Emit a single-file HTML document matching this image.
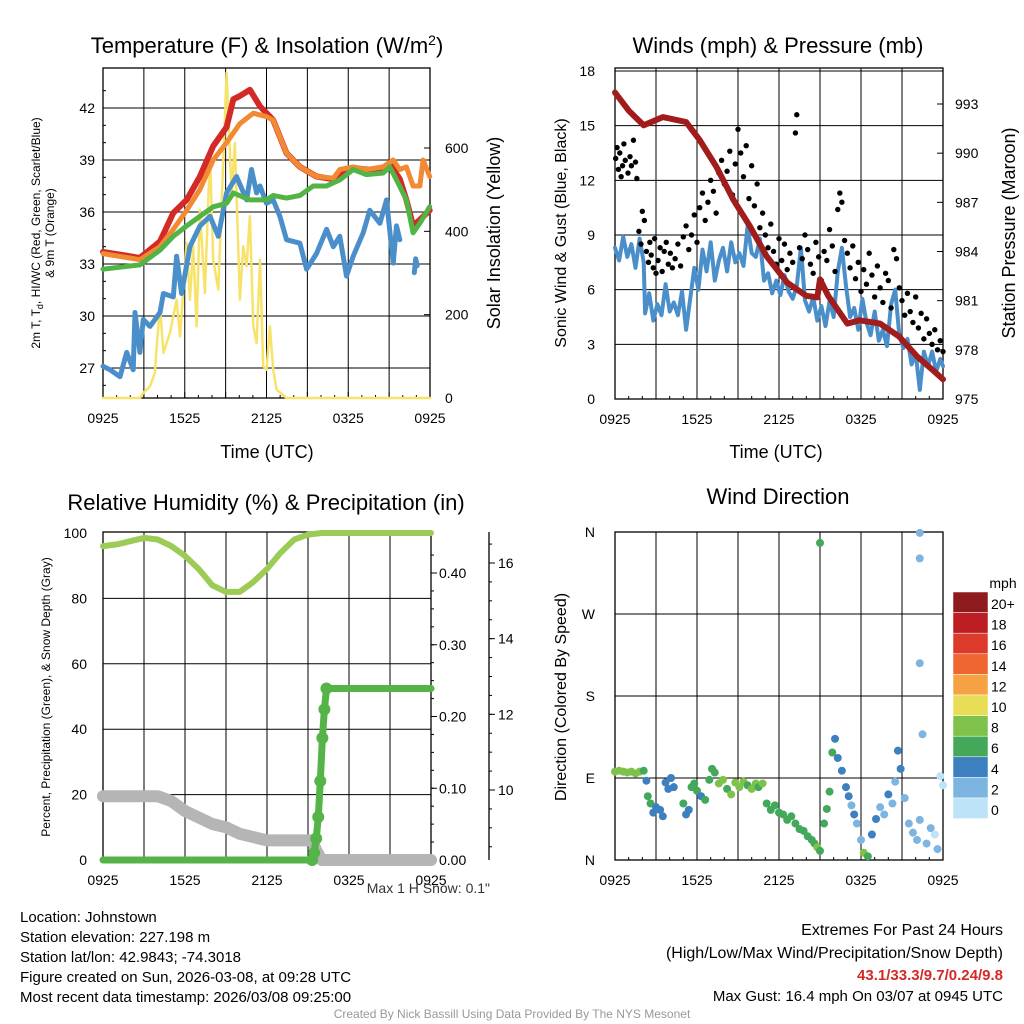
<!DOCTYPE html>
<html><head><meta charset="utf-8">
<style>
body{margin:0;background:#fff;}
svg{display:block;font-family:"Liberation Sans",sans-serif;}
</style></head>
<body>
<svg id="c" width="1024" height="1024" viewBox="0 0 1024 1024"></svg>
<script>
// ---- Panel 1 data (hours since 0925 UTC) ----
const redHours = [0,2.71,4.18,5.16,6.14,7.11,8.09,9.07,9.56,10.05,10.78,11.52,12.49,13.47,14.45,15.67,16.9,17.38,18.36,19.34,20.56,21.05,21.78,22.27,22.76,23.25,23.98];
const tempRed = [33.7,33.35,34.3,35.95,36.7,38.05,39.8,40.9,42.5,42.7,43.05,42.1,41.3,39.4,38.6,38.05,37.9,38.25,38.55,38.45,38.45,38.8,37.9,36.7,35.2,35.55,36.1];
const orangeHours = [0,2.71,4.18,5.16,6.14,7.11,8.09,9.07,10.05,11.03,12.0,12.49,13.47,14.45,15.67,16.9,17.38,18.36,19.34,20.56,21.3,21.78,22.27,22.76,23.25,23.49,23.98];
const tempOrange = [33.6,33.25,34,35,36.1,37.3,39,40,41.1,41.7,41.5,41.3,39.4,38.6,38.05,37.95,38.45,38.6,38.45,38.6,39,38.45,38.6,37.5,37.5,39,38.05];
const greenHours = [0,2.71,4.18,5.16,6.14,7.11,8.09,9.07,9.56,10.78,12.0,12.49,13.47,14.45,15.43,16.41,17.38,18.36,19.34,20.56,21.05,21.54,22.27,22.76,23.25,23.98];
const tempGreen = [32.7,32.95,33.8,34.6,35.2,35.75,36.3,36.5,37.1,36.7,36.7,36.95,36.8,36.95,37.5,37.5,37.85,38.45,38.15,38.25,38.6,37.85,36.7,34.8,35.35,36.3];
const dewHours = [0,0.51,1.25,1.74,2.22,2.35,2.71,2.96,3.45,4.18,4.43,5.16,5.40,5.77,6.38,7.11,7.85,8.46,9.07,9.8,10.54,10.9,11.27,11.52,12.0,12.49,12.98,13.47,14.45,14.94,15.67,16.41,16.9,17.38,17.87,18.36,19.1,19.58,20.32,20.81,21.3,21.54,21.78];
const dewBlue = [27.1,26.9,26.5,27.9,26.9,30.2,27.9,29.8,29.4,30.2,31.3,31.1,33.45,31.3,34,35.2,35.75,34.6,37.1,38.05,36.7,38.45,37.1,37.5,36.5,36.7,35.75,34.4,34.2,32.7,33.6,35,34,34.6,32.3,33.45,34.8,36.1,35.35,36.7,33.05,35.2,34.4];
const dewEndHours = [22.85,22.95,23.05];
const dewEndVals = [32.5,33.3,32.9];
const solarHours = [0,2.71,2.96,3.45,3.81,3.94,4.18,4.43,4.67,4.91,5.40,5.65,6.14,6.38,6.62,6.87,7.11,7.48,7.85,8.09,8.46,8.83,9.07,9.44,9.68,10.05,10.29,10.54,10.78,11.03,11.27,11.52,11.76,12.0,12.25,12.49,12.74,13.47,24];
const solarVals = [0,0,12,28,60,124,220,108,132,156,236,148,372,236,364,172,452,252,588,332,260,572,780,492,612,236,364,316,436,172,132,332,76,68,172,68,20,0,0];
const tempTicks = [27,30,33,36,39,42];
const solarTicks = [0,200,400,600];
const timeLabels = ["0925","1525","2125","0325","0925"];
// ---- Panel 2 data ----
const windHours = [0,0.3,0.6,0.9,1.2,1.5,1.8,2.1,2.2,2.5,2.8,3.1,3.4,3.7,4.0,4.3,4.6,4.9,5.2,5.5,5.8,6.1,6.4,6.7,7.0,7.3,7.6,7.9,8.2,8.5,8.8,9.1,9.4,9.7,10.0,10.3,10.6,10.9,11.2,11.5,11.8,12.1,12.4,12.7,13.0,13.3,13.6,13.9,14.2,14.5,14.8,15.1,15.4,15.7,16.0,16.3,16.6,16.9,17.2,17.5,17.8,18.1,18.4,18.7,19.0,19.3,19.6,19.9,20.2,20.5,20.8,21.1,21.4,21.7,22.0,22.3,22.6,22.9,23.2,23.5,23.8,24];
const windSpeed = [8.3,7.6,8.9,7.8,8.5,7.2,8.8,7.5,4.7,5.8,4.3,5.2,4.6,6.3,4.8,5.3,4.6,5.9,3.8,5.5,7.2,6.0,8.2,7.0,8.6,6.5,7.6,8.3,7.0,8.6,7.5,8.0,7.3,9.5,8.0,7.8,8.8,6.5,6.9,5.8,6.5,5.7,6.8,5.9,5.5,6.2,8.3,5.4,4.8,5.6,4.3,5.1,4.0,5.4,4.5,7.0,8.3,6.2,4.5,5.0,3.8,5.5,4.2,3.5,4.8,3.2,3.8,2.9,5.2,6.0,3.5,2.8,3.3,1.9,2.5,0.5,2.6,1.8,2.6,1.5,2.2,1.8];
const gustHours = [0.05,0.15,0.25,0.35,0.45,0.55,0.65,0.75,0.85,0.95,1.1,1.2,1.35,1.5,1.6,1.75,1.9,2.0,2.15,2.3,2.45,2.55,2.65,2.8,2.9,3.0,3.15,3.3,3.45,3.6,3.75,3.9,4.05,4.2,4.4,4.6,4.8,5.0,5.2,5.4,5.6,5.8,6.0,6.2,6.4,6.6,6.8,7.0,7.2,7.4,7.6,7.8,8.0,8.2,8.4,8.6,8.8,9.0,9.2,9.4,9.6,9.8,10.0,10.2,10.4,10.6,10.8,11.0,11.2,11.4,11.6,11.8,12.0,12.2,12.4,12.6,12.8,13.0,13.2,13.3,13.5,13.7,13.9,14.1,14.3,14.5,14.7,14.9,15.1,15.3,15.5,15.7,15.9,16.1,16.3,16.45,16.6,16.8,17.0,17.2,17.4,17.6,17.8,18.0,18.2,18.4,18.6,18.8,19.0,19.2,19.4,19.6,19.8,20.0,20.2,20.4,20.6,20.8,21.0,21.2,21.4,21.6,21.8,22.0,22.2,22.4,22.6,22.8,23.0,23.2,23.4,23.6,23.8,24];
const gustVals = [13.2,13.8,12.6,13.5,12.2,12.8,14.0,13.1,16.0,12.4,13.3,12.8,14.2,13.0,12.1,9.2,8.5,10.3,9.8,8.1,7.5,8.6,7.9,7.2,8.8,6.9,7.6,8.3,7.0,8.1,8.6,7.4,8.0,7.2,7.7,8.5,7.3,8.9,9.5,8.2,9.0,10.1,8.6,10.5,11.3,9.8,10.8,12.0,11.4,10.2,12.4,13.1,11.8,12.5,13.6,11.2,12.9,14.8,13.5,12.2,13.9,11.0,12.8,10.6,11.8,9.4,10.2,9.0,8.3,9.6,8.1,7.4,8.8,7.6,8.5,7.1,8.0,7.5,14.6,15.6,8.3,7.7,9.0,8.2,7.4,6.9,8.6,7.8,6.5,8.1,7.6,9.3,8.4,7.0,10.4,11.3,10.8,8.7,8.0,7.2,8.4,6.6,7.5,5.9,7.1,6.3,8.0,6.8,5.6,7.3,6.1,5.3,6.9,6.5,5.0,8.2,7.7,6.1,5.4,4.6,5.8,4.8,4.2,5.6,3.9,4.7,3.3,4.4,3.6,3.0,3.8,2.7,3.2,2.6];
const pressHours = [0,1.0,2.1,3.5,5.2,6.2,7.4,8.7,9.9,11.1,12.6,14.0,14.8,15.0,15.6,17.0,17.9,19.4,20.8,22.1,23.2,24];
const pressVals = [993.7,992.6,991.7,992.2,991.9,990.8,989.2,987.1,985.5,983.7,982.1,981.3,981.2,982.3,981.3,979.6,979.8,979.6,978.8,977.6,976.8,976.2];
const windTicks = [0,3,6,9,12,15,18];
const pressTicks = [975,978,981,984,987,990,993];
// ---- Panel 3 data ----
const rhHours = [0,1,2,3,4,5,6,7,8,9,10,11,12,13,14,15,16,24];
const rhVals = [96,96.5,97.5,98.5,98,96,93,89,84,82,82,85,89,94,98,99.5,100,100];
const precipHours = [0,15.3,15.45,15.6,15.75,15.9,16.05,16.2,16.35,24];
const precipVals = [0,0,0.01,0.03,0.06,0.11,0.17,0.21,0.239,0.239];
const snowHours = [0,4,5,6,7,8,9,10,11,12,15.3,15.6,16,24];
const snowVals = [19.5,19.5,18,15,13,11,10,8,7,6,6,3,0,0];
const pctTicks = [0,20,40,60,80,100];
const precipTicks = ["0.00","0.10","0.20","0.30","0.40"];
const snowTicks = [10,12,14,16];
// ---- Panel 4 data ----
const dirHours = [0,0.3,0.6,0.9,1.2,1.5,1.8,2.1,2.3,2.4,2.6,2.8,3.0,3.3,3.5,3.7,3.9,4.1,4.3,5.0,5.2,5.4,5.6,5.8,6.0,6.3,6.6,6.9,7.1,7.3,7.6,7.9,8.2,8.5,8.8,9.1,9.4,9.7,10.0,10.3,10.5,10.8,11.1,11.4,11.7,12.0,12.3,12.6,12.9,13.2,13.5,13.8,14.1,14.4,14.6,14.8,15.0,15.0,15.3,15.5,15.7,15.9,16.1,16.3,16.6,16.9,17.1,17.3,17.5,17.7,18.0,18.2,18.5,18.8,19.1,19.4,19.7,20.0,20.3,20.5,20.7,20.9,21.2,21.5,21.8,22.1,22.3,22.3,22.3,22.3,22.5,22.8,23.1,23.4,23.6,23.8,24];
const dirVals = [97,98,97,96,97,95,97,98,87,70,62,52,58,55,48,85,78,90,80,62,50,55,80,84,76,70,66,88,100,96,84,88,78,72,85,80,86,82,78,84,80,84,62,55,60,52,50,44,48,40,34,32,26,22,18,14,10,348,40,56,75,118,133,112,98,80,70,60,50,40,22,8,4,28,45,58,50,72,62,86,120,100,68,40,30,22,44,359,331,216,138,18,35,28,12,92,82,124];
const dirSpeed = [8,8,8,8,8,8,8,7,4,6,6,5,4,4,5,4,4,4,4,6,5,4,6,6,6,5,6,7,6,7,8,8,7,8,8,8,9,7,8,8,7,8,7,7,6,6,6,6,6,6,6,6,6,6,7,8,7,7,7,6,6,7,4,5,4,4,4,3,4,2,3,8,7,4,4,3,3,4,3,3,4,4,3,2,2,2,2,2,2,2,2,2,2,1,2,1,1,0];
const cbLabels = ["20+","18","16","14","12","10","8","6","4","2","0"];
const cbColors = ["#8e1b1e","#bd1e24","#dc3a2a","#ef6630","#f6a244","#e7de55","#7fc24b","#44a85b","#3d80c0","#7db5e2","#bde3f7"];

const NS="http://www.w3.org/2000/svg";
const svg=document.getElementById('c');
function el(tag,attrs,parent){const e=document.createElementNS(NS,tag);for(const k in attrs)e.setAttribute(k,attrs[k]);(parent||svg).appendChild(e);return e;}
function txt(x,y,s,size,anchor,extra){const t=el('text',Object.assign({x:x,y:y,'font-size':size,'text-anchor':anchor||'middle',fill:'#000'},extra||{}));t.textContent=s;return t;}
function lin(d0,d1,r0,r1){return v=>r0+(v-d0)/(d1-d0)*(r1-r0);}
function frame(L,T,R,B,vgrid,hgridY){
  vgrid.forEach(x=>el('line',{x1:x,y1:T,x2:x,y2:B,stroke:'#000','stroke-width':1}));
  hgridY.forEach(y=>el('line',{x1:L,y1:y,x2:R,y2:y,stroke:'#000','stroke-width':1}));
  el('rect',{x:L,y:T,width:R-L,height:B-T,fill:'none',stroke:'#000','stroke-width':1.3});
}
function timeAxis(L,R,B,name){
  const xs=lin(0,24,L,R);
  for(let h=0;h<=24;h+=1){const len=(h%3===0)?6:3;el('line',{x1:xs(h),y1:B,x2:xs(h),y2:B-len,stroke:'#000'});}
  timeLabels.forEach((s,i)=>{const t=txt(xs(i*6),B+25,s,14);});
  return xs;
}
function path(xs,ys,hours,vals,color,w,name){
  const d=hours.map((h,i)=>(i?'L':'M')+xs(h).toFixed(1)+','+ys(vals[i]).toFixed(1)).join('');
  const p=el('path',{d:d,fill:'none',stroke:color,'stroke-width':w,'stroke-linejoin':'round','stroke-linecap':'round'});
  
  
  return p;
}

// ===== Panel 1 =====
(function(){
  const L=103,R=430,T=68,B=398;
  const xs=lin(0,24,L,R);const ys=lin(27,42,368,108);const ysol=lin(0,600,398,148);
  const vg=[];for(let h=3;h<24;h+=3)vg.push(xs(h));
  frame(L,T,R,B,vg,tempTicks.map(ys));
  const t=txt(267,53,'',22);t.innerHTML='Temperature (F) &amp; Insolation (W/m<tspan dy="-8" font-size="14">2</tspan><tspan dy="8">)</tspan>';
  
  
  timeAxis(L,R,B,'temp-x');
  const xl=txt(267,458,'Time (UTC)',18);
  tempTicks.forEach(v=>{const k=txt(L-8,ys(v)+5,String(v),14,'end');el('line',{x1:L,y1:ys(v),x2:L+6,y2:ys(v),stroke:'#000'});});
  for(let v=26;v<=43;v++)el('line',{x1:L,y1:ys(v),x2:L+3,y2:ys(v),stroke:'#000'});
  solarTicks.forEach(v=>{const k=txt(R+15,ysol(v)+5,String(v),14,'start');el('line',{x1:R,y1:ysol(v),x2:R-6,y2:ysol(v),stroke:'#000'});});
  const yl=el('text',{x:0,y:0,'font-size':12,'text-anchor':'middle',transform:'translate(40,233) rotate(-90)'});
  yl.innerHTML='<tspan x="0" dy="0">2m T, T<tspan font-size="9" dy="3">d</tspan><tspan dy="-3">, HI/WC (Red, Green, Scarlet/Blue)</tspan></tspan><tspan x="0" dy="14">&amp; 9m T (Orange)</tspan>';
  
  
  const yr=txt(0,0,'Solar Insolation (Yellow)',18,'middle',{transform:'translate(500,233) rotate(-90)'});
  
  path(xs,ysol,solarHours,solarVals,'#f7e36a',2.5,'solar-line');
  path(xs,ys,dewHours,dewBlue,'#4a8fca',5,'dewpoint-line');
  path(xs,ys,dewEndHours,dewEndVals,'#4a8fca',5,'dewpoint-line-end');
  path(xs,ys,redHours,tempRed,'#d42a27',6,'temp-2m-line');
  path(xs,ys,orangeHours,tempOrange,'#f28a33',5,'temp-9m-line');
  path(xs,ys,greenHours,tempGreen,'#52b347',5,'windchill-line');
})();

// ===== Panel 2 =====
(function(){
  const L=615,R=943,T=68,B=399;
  const xs=lin(0,24,L,R);const ys=lin(0,18,399,71);const yp=lin(975,993,399,104);
  const vg=[];for(let h=3;h<24;h+=3)vg.push(xs(h));
  frame(L,T,R,B,vg,windTicks.slice(1,7).map(ys));
  const t=txt(778,53,'Winds (mph) & Pressure (mb)',22);
  timeAxis(L,R,B,'wind-x');
  const xl=txt(776,458,'Time (UTC)',18);
  windTicks.forEach(v=>{const k=txt(L-20,ys(v)+5,String(v),14,'end');});
  pressTicks.forEach(v=>{const k=txt(R+12,yp(v)+5,String(v),14,'start');el('line',{x1:R,y1:yp(v),x2:R-6,y2:yp(v),stroke:'#000'});});
  const yl=txt(0,0,'Sonic Wind & Gust (Blue, Black)',16,'middle',{transform:'translate(566,233) rotate(-90)'});
  const yr=txt(0,0,'Station Pressure (Maroon)',18,'middle',{transform:'translate(1015,233) rotate(-90)'});
  path(xs,ys,windHours,windSpeed,'#4a8fca',4,'wind-speed-line');
  gustHours.forEach((h,i)=>{const c=el('circle',{cx:xs(h),cy:ys(gustVals[i]),r:2.7,fill:'#000'});});
  path(xs,yp,pressHours,pressVals,'#a11d1d',6,'pressure-line');
})();

// ===== Panel 3 =====
(function(){
  const L=103,R=431,T=532,B=860;
  const xs=lin(0,24,L,R);const ys=lin(0,100,860,533);const ypr=lin(0,0.4,860,573);const ysn=lin(10,16,790,563);
  const vg=[];for(let h=3;h<24;h+=3)vg.push(xs(h));
  frame(L,T,R,B,vg,pctTicks.slice(1,5).map(ys));
  const t=txt(266,510,'Relative Humidity (%) & Precipitation (in)',22);
  timeAxis(L,R,B,'rh-x');
  pctTicks.forEach(v=>{const k=txt(L-16,ys(v)+5,String(v),14,'end');});
  precipTicks.forEach(s=>{const v=parseFloat(s);const k=txt(R+8,ypr(v)+5,s,14,'start');el('line',{x1:R,y1:ypr(v),x2:R+6,y2:ypr(v),stroke:'#000'});});
  for(let v=0.025;v<0.45;v+=0.025)el('line',{x1:R,y1:ypr(v),x2:R+3,y2:ypr(v),stroke:'#000'});
  el('line',{x1:489,y1:532,x2:489,y2:860,stroke:'#000','stroke-width':1.3});
  snowTicks.forEach(v=>{const k=txt(498,ysn(v)+5,String(v),14,'start');el('line',{x1:489,y1:ysn(v),x2:495,y2:ysn(v),stroke:'#000'});});
  for(let v=8.5;v<17;v+=0.5)el('line',{x1:489,y1:ysn(v),x2:492,y2:ysn(v),stroke:'#000'});
  const yl=txt(0,0,'Percent, Precipitation (Green), & Snow Depth (Gray)',12,'middle',{transform:'translate(50,697) rotate(-90)'});
  const sn=txt(490,893,'Max 1 H Snow: 0.1"',14,'end',{fill:'#333'});
  path(xs,ys,rhHours,rhVals,'#9ccc56',6,'rh-line');
  path(xs,ys,snowHours,snowVals,'#b5b5b5',12,'snow-depth-line');
  path(xs,ypr,precipHours,precipVals,'#55b447',7,'precip-line');
  precipHours.forEach((h,i)=>{if(h>15&&h<17){const c=el('circle',{cx:xs(h),cy:ypr(precipVals[i]),r:6,fill:'#55b447'});}});
})();

// ===== Panel 4 =====
(function(){
  const L=615,R=943,T=532,B=860;
  const xs=lin(0,24,L,R);const yd=lin(0,360,860,532);
  const vg=[];for(let h=3;h<24;h+=3)vg.push(xs(h));
  frame(L,T,R,B,vg,[90,180,270].map(yd));
  const t=txt(778,504,'Wind Direction',22);
  timeAxis(L,R,B,'dir-x');
  ['N','E','S','W','N'].forEach((s,i)=>{const k=txt(L-20,yd(i*90)+5,s,14,'end');});
  const yl=txt(0,0,'Direction (Colored By Speed)',16,'middle',{transform:'translate(566,697) rotate(-90)'});
  function col(s){const idx=Math.min(10,Math.floor(s/2));return cbColors[10-idx];}
  dirHours.forEach((h,i)=>{const c=el('circle',{cx:xs(h),cy:yd(dirVals[i]),r:4,fill:col(dirSpeed[i])});});
  const u=txt(1003,588,'mph',14);
  const bh=20.6;
  cbColors.forEach((c,i)=>{const r=el('rect',{x:953,y:592+i*bh,width:35,height:bh,fill:c,stroke:'#fff','stroke-width':0.5});
    const k=txt(991,592+i*bh+17,cbLabels[i],14,'start');});
})();

// ===== Footer =====
const info=["Location: Johnstown","Station elevation: 227.198 m","Station lat/lon: 42.9843; -74.3018","Figure created on Sun, 2026-03-08, at 09:28 UTC","Most recent data timestamp: 2026/03/08 09:25:00"];
info.forEach((s,i)=>{const k=txt(20,922+i*20,s,15,'start');});
let e1=txt(1003,935,'Extremes For Past 24 Hours',16,'end');
let e2=txt(1003,958,'(High/Low/Max Wind/Precipitation/Snow Depth)',16,'end');
let e3=txt(1003,980,'43.1/33.3/9.7/0.24/9.8',15,'end',{fill:'#d42a27','font-weight':'bold'});
let e4=txt(1003,1001,'Max Gust: 16.4 mph On 03/07 at 0945 UTC',15,'end');
let cr=txt(512,1018,'Created By Nick Bassill Using Data Provided By The NYS Mesonet',12,'middle',{fill:'#999'});
</script>
</body></html>
